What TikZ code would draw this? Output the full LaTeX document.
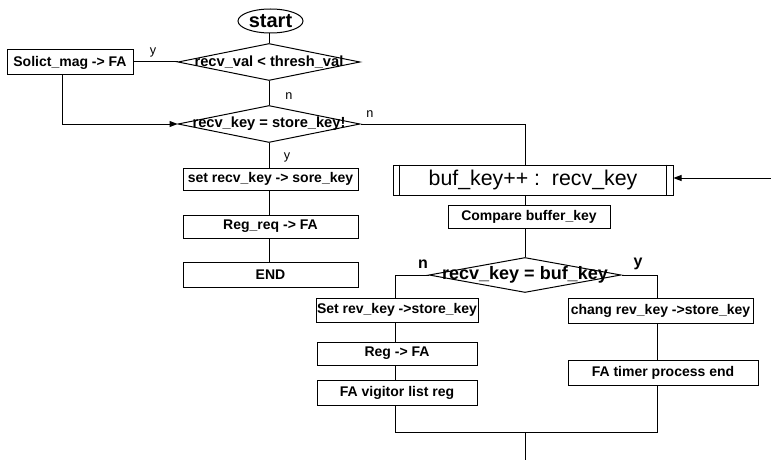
\documentclass[tikz,border=0pt]{standalone}
\usepackage{fontspec}
\setmainfont{Liberation Sans}
\usetikzlibrary{shapes.geometric,arrows.meta}
\begin{document}
\begin{tikzpicture}[x=0.75pt,y=-0.75pt,
  line width=0.75pt,
  bx/.style 2 args={draw, rectangle, inner sep=0pt, minimum width=0.75*#1pt, minimum height=0.75*#2pt, font=\fontsize{10.5}{12}\selectfont\bfseries},
  dia/.style 2 args={draw, diamond, inner sep=0pt, minimum width=0.75*#1pt, minimum height=0.75*#2pt},
  dtext/.style={inner sep=0pt, font=\fontsize{11}{13}\selectfont\bfseries},
  lbl/.style={inner sep=0pt, font=\fontsize{9.5}{11}\selectfont},
  blbl/.style={inner sep=0pt, font=\fontsize{12}{14}\selectfont\bfseries},
  arr/.style={-{Triangle[length=6pt,width=4.5pt]}},
]
\useasboundingbox (0,0) rectangle (771,460);

% nodes
\node[draw, ellipse, inner sep=0pt, minimum width=0.75*65pt, minimum height=0.75*24pt, font=\fontsize{15}{17}\selectfont\bfseries] (start) at (270.5,21) {start};
\node[dia={182}{37}] (d1) at (269,62) {};
\node[dtext] (d1t) at (d1.center) {recv\_val < thresh\_val};
\node[bx={126}{25}] (sol) at (70,62.5) {Solict\_mag -> FA};
\node[dia={182}{37}] (d2) at (269,124) {};
\node[dtext] (d2t) at (d2.center) {recv\_key = store\_key!};
\node[bx={175}{22}] (set) at (270.5,179) {set recv\_key -> sore\_key};
\node[bx={175}{23}] (reg) at (270.5,226.5) {Reg\_req -> FA};
\node[bx={175}{25}] (end) at (270.5,274.5) {END};
\node[bx={280}{30}, font=\fontsize{16}{18}\selectfont] (buf) at (533,180) {buf\_key++ :\ \ recv\_key};
\node[bx={162}{23}] (cmp) at (529,216.5) {Compare buffer\_key};
\node[dia={192}{35}] (d3) at (525,275) {};
\node[dtext, font=\fontsize{13.5}{15}\selectfont\bfseries] (d3t) at (d3.center) {recv\_key = buf\_key};
\node[bx={162}{24}] (srk) at (397,310) {Set rev\_key ->store\_key};
\node[bx={160}{23}] (rfa) at (397,353.5) {Reg -> FA};
\node[bx={160}{25}] (vis) at (397,392.5) {FA vigitor list reg};
\node[bx={185}{25}] (chg) at (660.5,310.5) {chang rev\_key ->store\_key};
\node[bx={190}{25}] (tmr) at (663,372.5) {FA timer process end};

\coordinate (inR) at (771,178);
\coordinate (j) at (525,432);
\coordinate (outB) at (525,460);
\coordinate (cL) at (395,432);
\coordinate (cR) at (657,432);
\coordinate (sx) at (62,0);

% inner bars of buf box
\draw ([xshift=0.75*7pt]buf.north west) -- ([xshift=0.75*7pt]buf.south west);
\draw ([xshift=-0.75*7pt]buf.north east) -- ([xshift=-0.75*7pt]buf.south east);

% connectors
\draw (d1.north) -- (d1.north |- start.south);
\draw (d1.west) -- (d1.west -| sol.east);
\draw[arr] (sol.south -| sx) |- (d2.west);
\draw (d1.south) -- (d2.north);
\draw (d2.east) -| (buf.north -| j);
\draw (d2.south) -- (d2.south |- set.north);
\draw (set.south -| d2) -- (reg.north -| d2);
\draw (reg.south -| d2) -- (end.north -| d2);
\draw[arr] (inR) -- (inR -| buf.east);
\draw (buf.south -| j) -- (cmp.north -| j);
\draw (cmp.south -| j) -- (d3.north);
\draw (d3.west) -| (srk.north -| cL);
\draw (d3.east) -| (chg.north -| cR);
\draw (srk.south -| cL) -- (rfa.north -| cL);
\draw (rfa.south -| cL) -- (vis.north -| cL);
\draw (chg.south -| cR) -- (tmr.north -| cR);
\draw (vis.south -| cL) -- (cL) -- (cR) -- (tmr.south -| cR);
\draw (j) -- (outB);

% labels
\node[lbl] (ly1) at (153,52) {y};
\node[lbl] (ln1) at (289,96) {n};
\node[lbl] (ln2) at (370,114) {n};
\node[lbl] (ly2) at (287,157) {y};
\node[blbl] (ln3) at (423,264) {n};
\node[blbl] (ly3) at (638,264) {y};
\end{tikzpicture}
\end{document}
